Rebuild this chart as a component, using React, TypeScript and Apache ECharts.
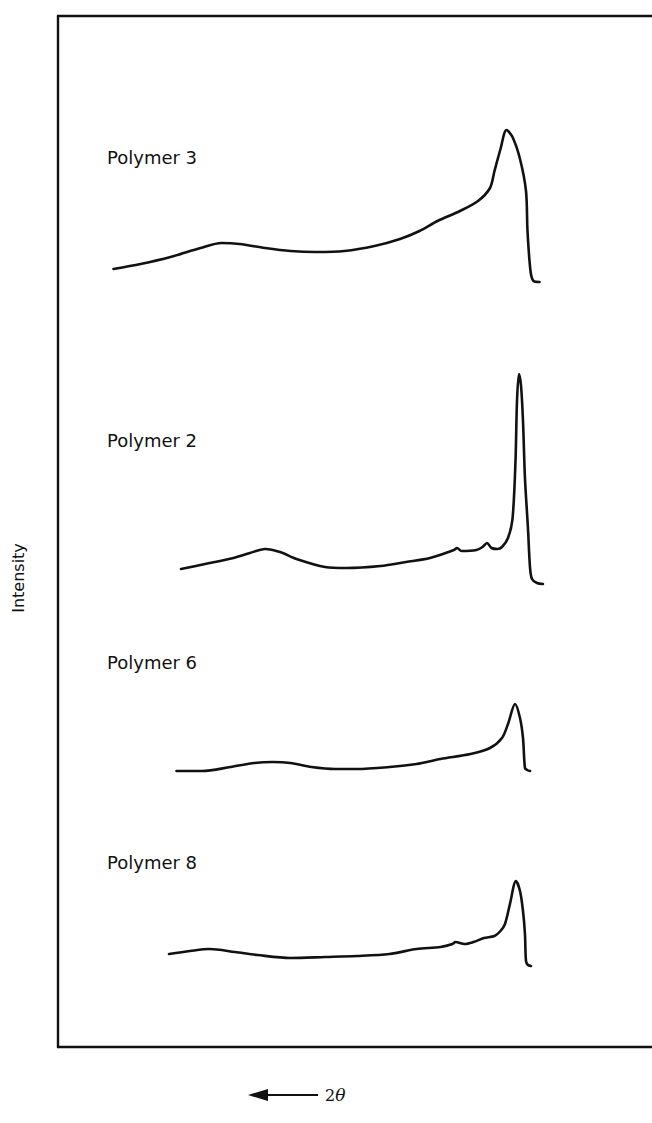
import React, { useEffect, useRef } from "react";
import * as echarts from "echarts";

// 2θ positions (arbitrary degree scale, increasing to the left) and intensities (arbitrary units)
const polymer3X = [36.3, 34.5, 32.5, 30.5, 29.1, 27.9, 26.2, 24.5, 22.8, 20.9, 18.9, 17.2, 15.9, 14.7, 13.2, 12.0, 11.2, 10.9, 10.5, 10.1, 9.7, 9.2, 8.8, 8.7, 8.5, 8.3, 7.9];
const polymer3Y = [1.8, 2.3, 3.0, 3.9, 4.4, 4.3, 3.9, 3.6, 3.5, 3.6, 4.1, 4.8, 5.6, 6.6, 7.6, 8.6, 9.9, 11.6, 13.8, 15.7, 15.0, 12.8, 9.6, 5.6, 1.6, 0.6, 0.5];

const polymer2X = [31.8, 30.2, 28.3, 27.2, 26.2, 25.2, 24.1, 22.2, 20.8, 18.5, 16.8, 15.2, 13.6, 13.4, 13.1, 12.1, 11.7, 11.4, 11.1, 10.7, 10.4, 10.0, 9.7, 9.5, 9.4, 9.27, 9.13, 9.0, 8.87, 8.67, 8.53, 8.4, 8.07, 7.67];
const polymer2Y = [1.8, 2.3, 2.9, 3.4, 3.8, 3.5, 2.8, 2.0, 1.9, 2.1, 2.5, 2.9, 3.7, 3.9, 3.6, 3.7, 4.0, 4.4, 3.9, 3.8, 4.0, 4.9, 6.8, 12.6, 18.6, 21.3, 20.1, 16.6, 10.9, 5.9, 1.9, 0.8, 0.4, 0.3];

const polymer6X = [32.1, 30.4, 28.5, 26.9, 25.7, 24.5, 23.1, 21.5, 20.1, 17.9, 16.1, 14.5, 12.5, 11.2, 10.4, 10.0, 9.53, 9.2, 9.0, 8.87, 8.73, 8.53];
const polymer6Y = [0.6, 0.6, 1.0, 1.4, 1.5, 1.4, 1.0, 0.8, 0.8, 1.0, 1.3, 1.8, 2.3, 2.9, 3.9, 5.3, 7.3, 5.9, 3.9, 0.9, 0.7, 0.6];

const polymer8X = [32.6, 31.2, 29.9, 28.2, 26.7, 24.5, 22.2, 20.1, 17.9, 16.1, 14.5, 13.7, 13.5, 12.9, 12.3, 11.6, 10.9, 10.5, 10.2, 9.87, 9.47, 9.2, 9.0, 8.87, 8.8, 8.67, 8.47];
const polymer8Y = [1.3, 1.6, 1.8, 1.5, 1.2, 0.9, 1.0, 1.1, 1.3, 1.8, 2.0, 2.3, 2.5, 2.3, 2.5, 2.9, 3.1, 3.6, 4.3, 6.3, 8.6, 7.6, 5.6, 3.3, 0.6, 0.2, 0.1];

const seriesNames = ["Polymer 3", "Polymer 2", "Polymer 6", "Polymer 8"];
const seriesOffsets = [76, 46, 27, 8];
const seriesX = [polymer3X, polymer2X, polymer6X, polymer8X];
const seriesY = [polymer3Y, polymer2Y, polymer6Y, polymer8Y];

const FONT = "'DejaVu Sans', 'Liberation Sans', sans-serif";

export default function App() {
  const ref = useRef<HTMLDivElement>(null);

  useEffect(() => {
    if (!ref.current) return;
    const chart = echarts.init(ref.current, null, { renderer: "svg" });

    const gridLeft = 58;
    const gridTop = 16;
    const gridWidth = 600;
    const gridHeight = 1031;
    const yMax = 103.1;

    const series: any[] = seriesNames.map((name, i) => ({
      name,
      type: "line",
      showSymbol: false,
      smooth: 0.3,
      lineStyle: { color: "#111", width: 2.6, cap: "round", join: "round" },
      data: seriesX[i].map((x, j) => [x, seriesY[i][j] + seriesOffsets[i]]),
    }));

    const labelY = [157, 440, 662, 862];

    const axisCommon = {
      axisTick: { show: false },
      axisLabel: { show: false },
      splitLine: { show: false },
    };

    chart.setOption({
      animation: false,
      backgroundColor: "#fff",
      grid: { left: gridLeft, top: gridTop, width: gridWidth, height: gridHeight, containLabel: false },
      xAxis: [
        {
          type: "value",
          min: 0,
          max: 40,
          inverse: true,
          position: "bottom",
          axisLine: { show: true, onZero: false, lineStyle: { color: "#111", width: 2.4 } },
          ...axisCommon,
        },
        {
          type: "value",
          min: 0,
          max: 40,
          inverse: true,
          position: "top",
          axisLine: { show: true, onZero: false, lineStyle: { color: "#111", width: 2.4 } },
          ...axisCommon,
        },
      ],
      yAxis: {
        type: "value",
        min: 0,
        max: yMax,
        axisLine: { show: true, onZero: false, lineStyle: { color: "#111", width: 2.4 } },
        ...axisCommon,
      },
      series,
      graphic: [
        ...seriesNames.map((name, i) => ({
          type: "text",
          x: 107,
          y: labelY[i],
          style: { text: name, fill: "#111", font: `18px ${FONT}`, verticalAlign: "middle" },
        })),
        {
          type: "text",
          x: 18,
          y: 578,
          rotation: Math.PI / 2,
          style: {
            text: "Intensity",
            fill: "#111",
            font: `16px ${FONT}`,
            align: "center",
            verticalAlign: "middle",
          },
        },
        {
          type: "line",
          shape: { x1: 264, y1: 1095, x2: 318, y2: 1095 },
          style: { stroke: "#111", lineWidth: 2.2 },
        },
        {
          type: "polygon",
          shape: { points: [[248, 1095], [268, 1089], [268, 1101]] },
          style: { fill: "#111" },
        },
        {
          type: "text",
          x: 325,
          y: 1095,
          style: {
            text: "{a|2}{b|θ}",
            verticalAlign: "middle",
            rich: {
              a: { fill: "#111", font: "16px 'DejaVu Serif', 'Liberation Serif', serif" },
              b: { fill: "#111", font: "italic 17px 'DejaVu Serif', 'Liberation Serif', serif" },
            },
          },
        },
      ],
    });

    return () => chart.dispose();
  }, []);

  return (
    <div style={{ position: "absolute", left: 0, top: 0, width: 652, height: 1123, overflow: "hidden", background: "#fff" }}>
      <div ref={ref} style={{ width: 700, height: 1123 }} />
    </div>
  );
}
